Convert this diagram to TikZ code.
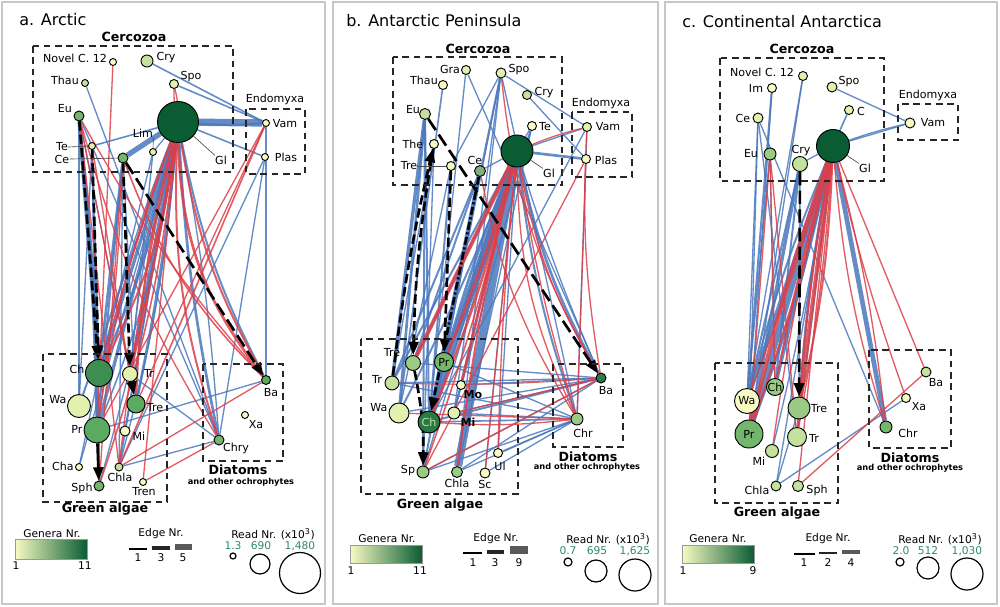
\documentclass[tikz,border=0pt]{standalone}
\usepackage{fontspec}
\setmainfont{DejaVu Sans}
\usetikzlibrary{arrows.meta}
\pgfdeclarelayer{bg}\pgfdeclarelayer{mid}
\pgfsetlayers{bg,mid,main}
\definecolor{g1}{HTML}{F7FBC3}
\definecolor{g2}{HTML}{E2F1AE}
\definecolor{g3}{HTML}{C4E29E}
\definecolor{g4}{HTML}{99CB84}
\definecolor{g5}{HTML}{74B76C}
\definecolor{g6}{HTML}{5AAA62}
\definecolor{g7}{HTML}{3D8E50}
\definecolor{g8}{HTML}{2A7A47}
\definecolor{g9}{HTML}{0A5C33}
\definecolor{cgrey}{HTML}{7FAF80}
\definecolor{eblue}{HTML}{4A78BD}
\definecolor{ered}{HTML}{DC3F48}
\definecolor{numg}{HTML}{2E8B6A}
\begin{document}
\begin{tikzpicture}[x=0.75pt,y=-0.75pt,
  gn/.style={circle,draw=black,line width=0.7pt,inner sep=0pt,minimum size=#1*1.5pt},
  lab/.style={font=\fontsize{8.3}{9}\selectfont,inner sep=0pt},
  labin/.style={font=\fontsize{8.3}{9}\selectfont},
  grp/.style={draw=black!85,line width=0.9pt,dash pattern=on 5pt off 3.5pt},
  gtit/.style={font=\fontsize{9.5}{11}\selectfont\bfseries,inner sep=0pt},
  gsub/.style={font=\fontsize{6.2}{7}\selectfont\bfseries,inner sep=0pt},
  ptit/.style={font=\fontsize{12}{14}\selectfont,inner sep=0pt,anchor=west},
  leg/.style={font=\fontsize{8}{9}\selectfont,inner sep=0pt},
  legn/.style={font=\fontsize{8}{9}\selectfont,inner sep=0pt,text=numg},
  lead/.style={draw=black!70,line width=0.5pt},
  eb/.style={draw=eblue,draw opacity=0.85},
  er/.style={draw=ered,draw opacity=0.85},
  barrow/.style={draw=black,line width=2pt,-{Triangle[length=10pt,width=7.5pt]}},
  dsh/.style={dash pattern=on 7pt off 3pt},
  dshl/.style={dash pattern=on 10pt off 4pt},
  dshd/.style={dash pattern=on 6pt off 2pt on 1.5pt off 2pt},
  rcirc/.style={circle,draw=black,line width=0.9pt,inner sep=0pt,minimum size=#1*1.5pt},
  frame/.style={draw=black!22,line width=1.3pt}
]
\useasboundingbox (0,0) rectangle (1000,607);
% panel frames
\draw[frame] (2,2) rectangle (325,604);
\draw[frame] (333,2) rectangle (658,604);
\draw[frame] (665,2) rectangle (997,604);

% ================= PANEL A =================
\node[ptit] (aTitle) at (19,20) {a. Arctic};
\draw[grp] (33,46) rectangle (233,172);
\draw[grp] (246,109) rectangle (305,174);
\draw[grp] (43,354) rectangle (167,502);
\draw[grp] (203,364) rectangle (283,461);
\node[gtit] (aCerc) at (134,37) {Cercozoa};
\node[lab] (aEndo) at (275,99) {Endomyxa};
\node[gtit] (aGA) at (105,509) {Green algae};
\node[gtit] (aDia) at (238,470) {Diatoms};
\node[gsub] (aDiaS) at (241,482) {and other ochrophytes};

\node[gn=3.5,fill=g1] (aNov) at (113,62) {};
\node[gn=6,fill=g3] (aCry) at (147,61) {};
\node[gn=3.5,fill=g3] (aThau) at (85,83) {};
\node[gn=4.5,fill=g2] (aSpo) at (174,84) {};
\node[gn=5,fill=g5] (aEu) at (79,116) {};
\node[gn=20.5,fill=g9] (aHub) at (178,122) {};
\node[gn=3.5,fill=g2] (aLim) at (153,152) {};
\node[gn=3.5,fill=g2] (aTe) at (92,146) {};
\node[gn=5,fill=g5] (aCe) at (123,158) {};
\node[gn=3.5,fill=g1] (aVam) at (266,123) {};
\node[gn=3.5,fill=g1] (aPlas) at (265,157) {};
\node[gn=13.5,fill=g7] (aCh) at (99,373) {};
\node[gn=7.5,fill=g2] (aTr) at (130,374) {};
\node[gn=11.5,fill=g2] (aWa) at (79,406) {};
\node[gn=9,fill=g6] (aTre) at (136,404) {};
\node[gn=13,fill=g6] (aPr) at (97,430) {};
\node[gn=5,fill=g1] (aMi) at (125,431) {};
\node[gn=3.5,fill=g1] (aCha) at (79,467) {};
\node[gn=4,fill=g3] (aChla) at (119,467) {};
\node[gn=5,fill=g5] (aSph) at (99,486) {};
\node[gn=3.5,fill=g1] (aTren) at (143,482) {};
\node[gn=4.5,fill=g6] (aBa) at (266,380) {};
\node[gn=3.5,fill=g1] (aXa) at (245,415) {};
\node[gn=5,fill=g5] (aChry) at (219,440) {};

\node[lab] (aNovL) at (75,58) {Novel C. 12};
\node[lab] (aCryL) at (166,58) {Cry};
\node[lab] (aThauL) at (65,80) {Thau};
\node[lab] (aSpoL) at (191,77) {Spo};
\node[lab] (aEuL) at (65,109) {Eu};
\node[lab] (aLimL) at (143,133) {Lim};
\node[lab] (aTeL) at (62,147) {Te};
\node[lab] (aCeL) at (62,159) {Ce};
\node[lab] (aGlL) at (221,160) {Gl};
\node[lab] (aVamL) at (285,124) {Vam};
\node[lab] (aPlasL) at (286,157) {Plas};
\node[lab] (aChL) at (77,369) {Ch};
\node[lab] (aTrL) at (149,373) {Tr};
\node[lab] (aWaL) at (58,400) {Wa};
\node[lab] (aTreL) at (155,408) {Tre};
\node[lab] (aPrL) at (77,429) {Pr};
\node[lab] (aMiL) at (139,436) {Mi};
\node[lab] (aChaL) at (63,466) {Cha};
\node[lab] (aChlaL) at (120,477) {Chla};
\node[lab] (aSphL) at (82,488) {Sph};
\node[lab] (aTrenL) at (144,492) {Tren};
\node[lab] (aBaL) at (271,393) {Ba};
\node[lab] (aXaL) at (256,425) {Xa};
\node[lab] (aChryL) at (236,448) {Chry};
\draw[lead] (aTeL.east) -- (aTe);
\draw[lead] (aCeL.east) -- (aCe);
\draw[lead] (aLimL.south east) -- (aLim);
\draw[lead] (aGlL.north west) -- (aHub);

\begin{pgfonlayer}{bg}
\foreach \a/\b/\w/\bd in {aHub/aCh/2.5/0,aHub/aCh/1.5/6,aHub/aCh/1/-4,aHub/aPr/2.5/0,aHub/aPr/1.2/7,aHub/aTr/2/0,aHub/aTr/1/-5,aHub/aTre/2/3,aHub/aWa/1.5/0,aHub/aChla/1.5/0,aHub/aChla/1/5,aHub/aSph/1/3,aHub/aMi/1/0,aHub/aChry/2/-4,aHub/aChry/1/3,aHub/aBa/1.5/-8,aHub/aCe/4/0,aHub/aVam/5.5/0,aHub/aVam/1.5/-4,aHub/aPlas/1.2/0,aHub/aTe/1.2/0,aHub/aLim/1/0,aHub/aCha/1/0,aEu/aCh/3/0,aEu/aPr/2/2,aEu/aSph/1.5/3,aEu/aTre/1/0,aEu/aWa/1/0,aTe/aCh/1.5/0,aTe/aWa/1/0,aTe/aPr/1.2/0,aCe/aCh/2/0,aCe/aTre/1/0,aCe/aChla/1/0,aCe/aPr/1.5/0,aThau/aChry/1/0,aCry/aVam/1.2/0,aSpo/aVam/1.2/0,aLim/aCh/1/0,aLim/aTr/1/0,aVam/aBa/1/0,aPlas/aChry/1/0,aPlas/aChla/1/0,aPr/aBa/1/0,aChla/aChry/1/0,aTr/aChry/1/0,aCha/aCh/1/0,aEu/aChry/1/0}
  \draw[eb,line width=\w pt] (\a) to[bend left=\bd] (\b);
\foreach \a/\b/\w/\bd in {aHub/aCh/1.5/10,aHub/aCh/1/-2,aHub/aTr/2/2,aHub/aTre/1.5/-6,aHub/aPr/1.2/-6,aHub/aSph/1.2/6,aHub/aChla/1/-3,aHub/aBa/2/-18,aHub/aBa/1.5/-10,aHub/aChry/1.5/-10,aHub/aTren/1/0,aSpo/aHub/1/4,aSpo/aHub/1/-4,aNov/aPr/1/0,aEu/aTr/1/0,aEu/aChla/1/0,aCe/aSph/1/0,aCe/aPr/1/3,aVam/aChla/1.2/0,aVam/aPr/1/0,aVam/aTre/1/0,aChla/aBa/1/0,aTren/aChry/1/0,aTe/aTr/1/0,aEu/aBa/1/-6,aCe/aBa/1.2/-12,aEu/aChry/1/-8}
  \draw[er,line width=\w pt] (\a) to[bend left=\bd] (\b);
\end{pgfonlayer}
\begin{pgfonlayer}{mid}
\draw[barrow,dsh] (aEu) -- (aCh);
\draw[barrow,dsh] (aTe) -- (aCh);
\draw[barrow,dsh] (aCe) -- (aTr);
\draw[barrow,dshl] (aCe) -- (aBa);
\draw[barrow] (aTr) -- (aTre);
\draw[barrow] (aPr) -- (aSph);
\end{pgfonlayer}

% legend a
\node[leg] (aGenL) at (52,534) {Genera Nr.};
\shade[left color=g1,middle color=g5,right color=g9,draw=black!40] (15,539) rectangle (87,559);
\node[leg] (aG1) at (16,566) {1};
\node[leg] (aG11) at (85,566) {11};
\node[leg] (aEdL) at (161,534) {Edge Nr.};
\draw[line width=0.8pt,black] (129,549) -- (147,549);
\draw[line width=2.4pt,black!85] (152,548) -- (170,548);
\draw[line width=4pt,black!65] (175,547) -- (192,547);
\node[leg] (aE1) at (138,558) {1};
\node[leg] (aE3) at (161,558) {3};
\node[leg] (aE5) at (183,558) {5};
\node[leg] (aRdL) at (273,534) {Read Nr. (x10\textsuperscript{3})};
\node[legn] (aR1L) at (233,546) {1.3};
\node[legn] (aR2L) at (261,546) {690};
\node[legn] (aR3L) at (300,546) {1,480};
\node[rcirc=3] (aR1) at (233,556) {};
\node[rcirc=10] (aR2) at (260,564) {};
\node[rcirc=20.5] (aR3) at (300,573) {};

% ================= PANEL B =================
\node[ptit] (bTitle) at (346,21) {b. Antarctic Peninsula};
\draw[grp] (393,57) rectangle (562,185);
\draw[grp] (572,112) rectangle (632,177);
\draw[grp] (361,339) rectangle (518,494);
\draw[grp] (553,364) rectangle (623,447);
\node[gtit] (bCerc) at (478,49) {Cercozoa};
\node[lab] (bEndo) at (601,103) {Endomyxa};
\node[gtit] (bGA) at (440,505) {Green algae};
\node[gtit] (bDia) at (588,457) {Diatoms};
\node[gsub] (bDiaS) at (587,467) {and other ochrophytes};

\node[gn=4.5,fill=g2] (bGra) at (466,70) {};
\node[gn=4.5,fill=g1] (bThau) at (443,85) {};
\node[gn=5,fill=g2] (bSpo) at (501,73) {};
\node[gn=4.5,fill=g3] (bCry) at (527,95) {};
\node[gn=5.5,fill=g3] (bEu) at (425,114) {};
\node[gn=4.5,fill=g1] (bTe) at (532,126) {};
\node[gn=16,fill=g9] (bHub) at (517,151) {};
\node[gn=4.5,fill=g1] (bThe) at (434,144) {};
\node[gn=4.5,fill=g1] (bTrec) at (451,166) {};
\node[gn=5.5,fill=cgrey] (bCe) at (480,171) {};
\node[gn=4.5,fill=g2] (bVam) at (587,127) {};
\node[gn=4.5,fill=g1] (bPlas) at (586,159) {};
\node[gn=7.5,fill=g4] (bTreg) at (413,363) {};
\node[gn=9.5,fill=g5,labin] (bPr) at (444,362) {Pr};
\node[gn=7,fill=g3] (bTr) at (392,383) {};
\node[gn=4.5,fill=g1] (bMo) at (461,385) {};
\node[gn=10,fill=g2] (bWa) at (399,413) {};
\node[gn=11,fill=g8,labin,text=g3] (bCh) at (429,422) {Ch};
\node[gn=6,fill=g2] (bMi) at (454,413) {};
\node[gn=4.5,fill=g1] (bUl) at (498,453) {};
\node[gn=6,fill=g4] (bSp) at (423,472) {};
\node[gn=5.5,fill=g4] (bChla) at (457,472) {};
\node[gn=5,fill=g1] (bSc) at (485,473) {};
\node[gn=5,fill=g8] (bBa) at (601,378) {};
\node[gn=6,fill=g4] (bChr) at (577,419) {};

\node[lab] (bGraL) at (450,69) {Gra};
\node[lab] (bThauL) at (424,80) {Thau};
\node[lab] (bSpoL) at (519,70) {Spo};
\node[lab] (bCryL) at (544,93) {Cry};
\node[lab] (bEuL) at (413,110) {Eu};
\node[lab] (bTeL) at (545,127) {Te};
\node[lab] (bTheL) at (413,144) {The};
\node[lab] (bTrecL) at (409,166) {Tre};
\node[lab] (bCeL) at (475,160) {Ce};
\node[lab] (bGlL) at (549,173) {Gl};
\node[lab] (bVamL) at (608,127) {Vam};
\node[lab] (bPlasL) at (606,160) {Plas};
\node[lab] (bTregL) at (392,353) {Tre};
\node[lab] (bTrL) at (377,379) {Tr};
\node[lab,font=\fontsize{8.3}{9}\selectfont\bfseries] (bMoL) at (473,395) {Mo};
\node[lab] (bWaL) at (379,408) {Wa};
\node[lab,font=\fontsize{8.3}{9}\selectfont\bfseries] (bMiL) at (468,422) {Mi};
\node[lab] (bUlL) at (500,466) {Ul};
\node[lab] (bSpL) at (408,471) {Sp};
\node[lab] (bChlaL) at (457,483) {Chla};
\node[lab] (bScL) at (485,484) {Sc};
\node[lab] (bBaL) at (606,391) {Ba};
\node[lab] (bChrL) at (583,433) {Chr};
\draw[lead] (bTrecL.east) -- (bTrec);
\draw[lead] (bGlL.north west) -- (bHub);

\begin{pgfonlayer}{bg}
\foreach \a/\b/\w/\bd in {bHub/bCh/5/0,bHub/bCh/2/-4,bHub/bPr/3/0,bHub/bPr/1.5/5,bHub/bTreg/1.5/0,bHub/bTr/1.5/0,bHub/bWa/1.5/3,bHub/bMi/1.5/0,bHub/bSp/1/0,bHub/bChla/6/0,bHub/bSc/1/0,bHub/bBa/2/-8,bHub/bBa/1/-3,bHub/bChr/1.5/-6,bHub/bPlas/2/0,bHub/bVam/1/0,bHub/bTe/1/0,bHub/bCe/1/0,bHub/bUl/1/0,bSpo/bCh/1.5/0,bSpo/bPr/1/0,bSpo/bChla/1/0,bSpo/bMi/1/0,bSpo/bVam/1/0,bSpo/bChr/1/0,bSpo/bTrec/1/0,bGra/bCh/1/0,bGra/bBa/1/0,bCry/bPlas/1/0,bThau/bWa/1.2/0,bEu/bTr/2.5/0,bEu/bWa/2/0,bEu/bCh/1.5/0,bEu/bSp/1.5/0,bThe/bSp/1/0,bThe/bTr/1/0,bTrec/bCh/1.5/0,bTrec/bWa/1/0,bCe/bCh/3/0,bCe/bPr/2/0,bCe/bTreg/1.5/0,bCe/bSp/1.5/0,bCe/bTr/1.5/0,bTe/bCh/1/0,bTe/bMi/1/0,bTe/bChla/1/0,bVam/bChr/1/0,bVam/bCh/1/0,bTreg/bBa/1/0,bTr/bBa/1/0,bTr/bChr/1/0,bWa/bBa/1/0,bCh/bBa/1.5/0,bMi/bChr/1/0,bMo/bBa/1/0,bPr/bChr/1/0,bSp/bChr/1/0,bSc/bChr/1/0,bChla/bBa/1/0,bSp/bBa/1/0,bUl/bChr/1/0,bCh/bChr/1.2/0,bMi/bBa/1/0,bChla/bChr/1/0}
  \draw[eb,line width=\w pt] (\a) to[bend left=\bd] (\b);
\foreach \a/\b/\w/\bd in {bHub/bTreg/3/0,bHub/bPr/2/3,bHub/bCh/2/4,bHub/bMo/2/0,bHub/bChla/1.5/-3,bHub/bSp/1.2/3,bHub/bVam/1/4,bHub/bBa/1/-10,bHub/bChr/1/-12,bHub/bChr/1/-4,bHub/bUl/1/-2,bHub/bSc/1/0,bPlas/bChr/1/0,bPlas/bSp/1/0,bVam/bBa/1/-6,bSpo/bBa/1/-12,bCh/bChr/1/-5,bMi/bBa/1/0,bSp/bBa/1/0,bWa/bChr/1/0,bTr/bBa/0.8/-3,bCe/bChr/1/-10}
  \draw[er,line width=\w pt] (\a) to[bend left=\bd] (\b);
\end{pgfonlayer}
\begin{pgfonlayer}{mid}
\draw[barrow,dshl] (bEu) -- (bBa);
\draw[barrow,dsh] (bThe) to[bend right=4] (bTreg);
\draw[barrow,dsh] (bTrec) -- (bPr);
\draw[barrow,dshd] (bCe) -- (bCh);
\draw[barrow,dsh] (bTreg) to[bend left=6] (bSp);
\draw[barrow,dsh] (bTr) to[bend left=3] (bThe);
\end{pgfonlayer}

% legend b
\node[leg] (bGenL) at (387,539) {Genera Nr.};
\shade[left color=g1,middle color=g5,right color=g9,draw=black!40] (350,545) rectangle (422,563);
\node[leg] (bG1) at (351,571) {1};
\node[leg] (bG11) at (420,571) {11};
\node[leg] (bEdL) at (496,539) {Edge Nr.};
\draw[line width=0.8pt,black] (463,553) -- (482,553);
\draw[line width=3pt,black!85] (487,552) -- (504,552);
\draw[line width=6pt,black!65] (510,550) -- (528,550);
\node[leg] (bE1) at (473,563) {1};
\node[leg] (bE3) at (495,563) {3};
\node[leg] (bE9) at (519,563) {9};
\node[leg] (bRdL) at (608,539) {Read Nr. (x10\textsuperscript{3})};
\node[legn] (bR1L) at (568,551) {0.7};
\node[legn] (bR2L) at (597,551) {695};
\node[legn] (bR3L) at (635,551) {1,625};
\node[rcirc=4] (bR1) at (568,562) {};
\node[rcirc=11] (bR2) at (596,571) {};
\node[rcirc=16] (bR3) at (635,575) {};

% ================= PANEL C =================
\node[ptit] (cTitle) at (682,22) {c. Continental Antarctica};
\draw[grp] (720,58) rectangle (884,181);
\draw[grp] (898,104) rectangle (958,140);
\draw[grp] (715,363) rectangle (838,503);
\draw[grp] (869,350) rectangle (951,448);
\node[gtit] (cCerc) at (802,49) {Cercozoa};
\node[lab] (cEndo) at (928,95) {Endomyxa};
\node[gtit] (cGA) at (777,513) {Green algae};
\node[gtit] (cDia) at (910,458) {Diatoms};
\node[gsub] (cDiaS) at (910,468) {and other ochrophytes};

\node[gn=4.5,fill=g2] (cNov) at (803,76) {};
\node[gn=4.5,fill=g1] (cIm) at (772,88) {};
\node[gn=5,fill=g2] (cSpo) at (832,87) {};
\node[gn=4.5,fill=g2] (cC) at (849,110) {};
\node[gn=5,fill=g2] (cCe) at (758,118) {};
\node[gn=5,fill=g1] (cVam) at (910,123) {};
\node[gn=16.5,fill=g9] (cHub) at (833,146) {};
\node[gn=6,fill=g4] (cEu) at (770,154) {};
\node[gn=7.5,fill=g3] (cCry) at (800,164) {};
\node[gn=8,fill=g4,labin] (cCh) at (775,387) {Ch};
\node[gn=12.5,fill=g1,labin] (cWa) at (747,401) {Wa};
\node[gn=11,fill=g4] (cTre) at (799,408) {};
\node[gn=14,fill=g5,labin] (cPr) at (749,434) {Pr};
\node[gn=9.5,fill=g3] (cTr) at (797,437) {};
\node[gn=6.5,fill=g3] (cMi) at (772,451) {};
\node[gn=5,fill=g3] (cChla) at (776,486) {};
\node[gn=5.5,fill=g3] (cSph) at (798,486) {};
\node[gn=5,fill=g3] (cBa) at (926,372) {};
\node[gn=4.5,fill=g1] (cXa) at (906,398) {};
\node[gn=6,fill=g5] (cChr) at (886,427) {};

\node[lab] (cNovL) at (762,72) {Novel C. 12};
\node[lab] (cImL) at (756,88) {Im};
\node[lab] (cSpoL) at (849,82) {Spo};
\node[lab] (cCL) at (861,111) {C};
\node[lab] (cCeL) at (743,118) {Ce};
\node[lab] (cVamL) at (933,123) {Vam};
\node[lab] (cEuL) at (751,154) {Eu};
\node[lab] (cCryL) at (801,151) {Cry};
\node[lab] (cGlL) at (865,168) {Gl};
\node[lab] (cTreL) at (819,409) {Tre};
\node[lab] (cTrL) at (814,438) {Tr};
\node[lab] (cMiL) at (759,461) {Mi};
\node[lab] (cChlaL) at (757,490) {Chla};
\node[lab] (cSphL) at (817,490) {Sph};
\node[lab] (cBaL) at (936,383) {Ba};
\node[lab] (cXaL) at (919,407) {Xa};
\node[lab] (cChrL) at (908,433) {Chr};
\draw[lead] (cGlL.north west) -- (cHub);

\begin{pgfonlayer}{bg}
\foreach \a/\b/\w/\bd in {cHub/cVam/1/3,cHub/cVam/1/0,cSpo/cVam/1/0,cC/cHub/1.2/0,cCry/cHub/1/0,cHub/cPr/4/0,cHub/cPr/2/4,cHub/cWa/3/0,cHub/cWa/1.5/-4,cHub/cCh/2.5/0,cHub/cTre/2/-3,cHub/cTr/1.5/0,cHub/cChr/3.5/0,cHub/cChla/1/0,cHub/cMi/1/2,cCe/cWa/1/0,cCe/cPr/1/0,cCe/cChr/1/0,cCe/cTr/1/0,cEu/cWa/1.2/0,cEu/cCh/1/0,cIm/cWa/1.5/0,cIm/cPr/1/0,cNov/cPr/1/0,cNov/cWa/1/0,cCry/cPr/2.5/0,cCry/cWa/1.5/0,cCry/cCh/1.5/0,cCry/cTre/1.2/0,cChla/cXa/1/0,cChla/cTre/1/0}
  \draw[eb,line width=\w pt] (\a) to[bend left=\bd] (\b);
\foreach \a/\b/\w/\bd in {cHub/cPr/3/-3,cHub/cPr/1.5/3,cHub/cTre/3/0,cHub/cTre/1.5/5,cHub/cTr/1.5/-3,cHub/cTr/1/3,cHub/cCh/1.5/-2,cHub/cWa/1/2,cHub/cMi/1/-3,cHub/cSph/1/0,cHub/cBa/1/0,cHub/cXa/1/-3,cHub/cChr/1/-6,cHub/cChr/1/4,cEu/cPr/1/0,cEu/cTr/1/0,cEu/cCh/1/0,cSph/cBa/1/0}
  \draw[er,line width=\w pt] (\a) to[bend left=\bd] (\b);
\end{pgfonlayer}
\begin{pgfonlayer}{mid}
\draw[barrow,dshl] (cCry) -- (cTre);
\end{pgfonlayer}

% legend c
\node[leg] (cGenL) at (718,539) {Genera Nr.};
\shade[left color=g1,middle color=g5,right color=g9,draw=black!40] (682,545) rectangle (754,563);
\node[leg] (cG1) at (683,571) {1};
\node[leg] (cG9) at (753,571) {9};
\node[leg] (cEdL) at (828,539) {Edge Nr.};
\draw[line width=0.8pt,black] (794,554) -- (815,554);
\draw[line width=2pt,black!85] (819,553) -- (837,553);
\draw[line width=3.5pt,black!65] (842,552) -- (860,552);
\node[leg] (cE1) at (804,563) {1};
\node[leg] (cE2) at (828,563) {2};
\node[leg] (cE4) at (851,563) {4};
\node[leg] (cRdL) at (940,539) {Read Nr. (x10\textsuperscript{3})};
\node[legn] (cR1L) at (901,551) {2.0};
\node[legn] (cR2L) at (928,551) {512};
\node[legn] (cR3L) at (967,551) {1,030};
\node[rcirc=4] (cR1) at (900,562) {};
\node[rcirc=11] (cR2) at (928,568) {};
\node[rcirc=16] (cR3) at (967,574) {};
\end{tikzpicture}
\end{document}
